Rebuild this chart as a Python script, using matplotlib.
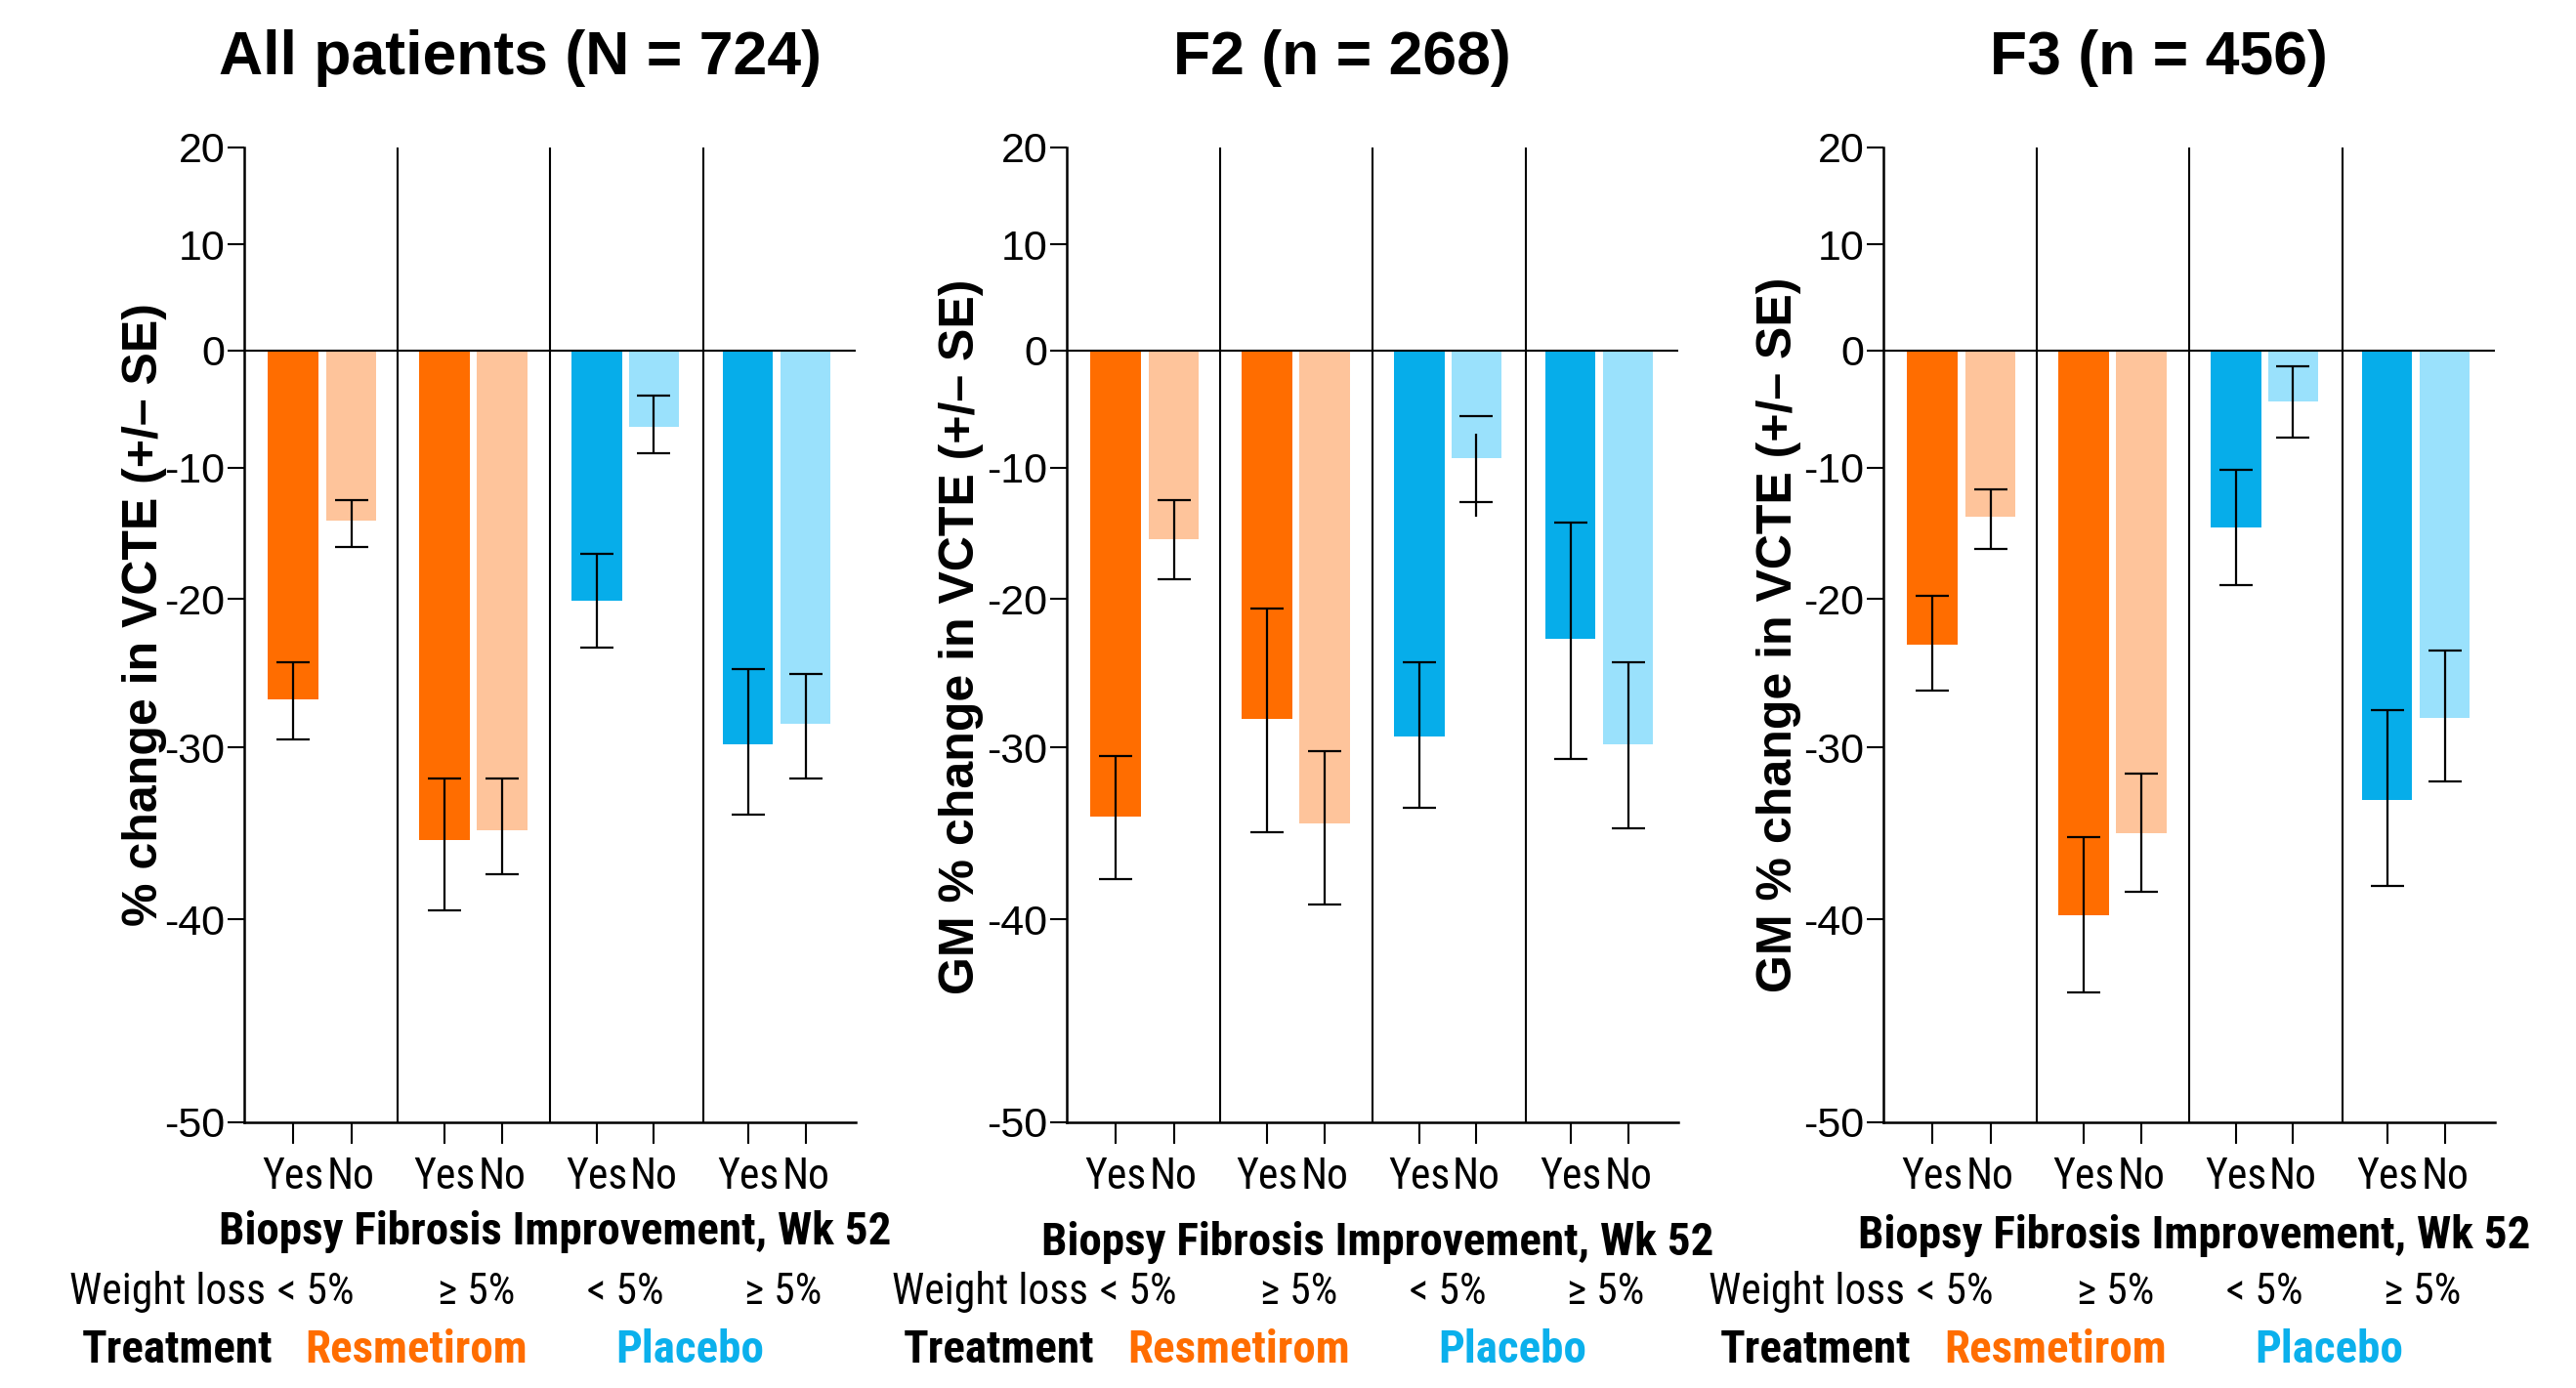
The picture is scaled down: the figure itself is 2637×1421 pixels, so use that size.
import numpy as np
import matplotlib
matplotlib.use("Agg")
import matplotlib.pyplot as plt
from matplotlib import font_manager as fm

# ---------------- data ----------------
titles = ["All patients (N = 724)", "F2 (n = 268)", "F3 (n = 456)"]
ylabels = ["% change in VCTE (+/\u2013 SE)",
           "GM % change in VCTE (+/\u2013 SE)",
           "GM % change in VCTE (+/\u2013 SE)"]
bar_labels = ["Yes", "No", "Yes", "No", "Yes", "No", "Yes", "No"]
weight_labels = ["< 5%", "\u2265 5%", "< 5%", "\u2265 5%"]
treatments = ["Resmetirom", "Placebo"]
yticks = [20, 10, 0, -10, -20, -30, -40, -50]

# order: Resm <5% (Yes, No), Resm >=5% (Yes, No), Placebo <5% (Yes, No), Placebo >=5% (Yes, No)
all_mean = [-26.9, -14.2, -35.6, -35.0, -20.1, -6.6, -29.8, -28.5]
all_upper = [-24.4, -12.6, -31.9, -31.9, -16.7, -4.0, -24.9, -25.2]
all_lower = [-29.5, -16.2, -39.5, -37.5, -23.4, -8.8, -34.1, -31.9]

f2_mean = [-34.2, -15.6, -28.2, -34.6, -29.3, -9.2, -22.8, -29.8]
f2_upper = [-30.5, -12.6, -20.7, -30.2, -24.4, -5.7, -14.3, -24.4]
f2_lower = [-37.8, -18.6, -35.1, -39.2, -33.7, -12.7, -30.7, -34.9]

f3_mean = [-23.2, -13.9, -39.8, -35.2, -14.7, -4.5, -33.2, -28.1]
f3_upper = [-19.8, -11.7, -35.4, -31.6, -10.2, -1.4, -27.6, -23.6]
f3_lower = [-26.3, -16.3, -43.8, -38.5, -19.0, -7.5, -38.2, -32.1]

# the F2 placebo "No" error stem is drawn offset from its caps in the original
f2_stem_override = {5: (-7.2, -13.9)}

panels = [
    (all_mean, all_upper, all_lower, {}),
    (f2_mean, f2_upper, f2_lower, f2_stem_override),
    (f3_mean, f3_upper, f3_lower, {}),
]

# ---------------- style ----------------
DARK_OR = "#FF6D00"
LIGHT_OR = "#FEC49B"
DARK_BL = "#06ADEA"
LIGHT_BL = "#9AE1FC"
bar_colors = [DARK_OR, LIGHT_OR, DARK_OR, LIGHT_OR, DARK_BL, LIGHT_BL, DARK_BL, LIGHT_BL]
treat_colors = ["#FF6D00", "#0BB0EC"]

plt.rcParams["font.family"] = ["Liberation Sans", "DejaVu Sans"]


def _w(e):
    w = e.weight
    if isinstance(w, str):
        return {"normal": 400, "regular": 400, "bold": 700}.get(w, 400)
    return int(w)


def pick_condensed():
    order = {"condensed": 0, "semi-condensed": 1, "extra-condensed": 2}
    cands = []
    for e in fm.fontManager.ttflist:
        st = str(e.stretch)
        cond = ("Narrow" in e.name or "Condensed" in e.name or st in order)
        if cond and e.style == "normal":
            cands.append(e)
    prefs = ["Liberation Sans Narrow", "Arial Narrow", "Roboto Condensed",
             "Open Sans Condensed", "Noto Sans", "Open Sans", "Roboto", "DejaVu Sans"]
    for name in prefs:
        sel = sorted([e for e in cands if e.name == name],
                     key=lambda e: order.get(str(e.stretch), 0))
        reg = [e for e in sel if _w(e) == 400]
        bold = [e for e in sel if _w(e) == 700]
        if reg and bold:
            return reg[0].fname, bold[0].fname
    reg = fm.findfont(fm.FontProperties(family="Liberation Sans", weight="normal"))
    bold = fm.findfont(fm.FontProperties(family="Liberation Sans", weight="bold"))
    return reg, bold


NAR_REG, NAR_BOLD = pick_condensed()

W, H = 2637, 1421
fig = plt.figure(figsize=(W / 100, H / 100), dpi=100)
renderer = fig.canvas.get_renderer()


def fit_size(text, fname, target_px, base=34.0):
    t = fig.text(0, 0, text, fontproperties=fm.FontProperties(fname=fname, size=base))
    w = t.get_window_extent(renderer).width
    t.remove()
    return min(base * target_px / w, 36.0)


REG_SIZE = fit_size("Weight loss", NAR_REG, 201)
BOLD_SIZE = fit_size("Biopsy Fibrosis Improvement, Wk 52", NAR_BOLD, 689)
fp_reg = fm.FontProperties(fname=NAR_REG, size=REG_SIZE)
fp_bold = fm.FontProperties(fname=NAR_BOLD, size=BOLD_SIZE)


def fx(x):
    return x / W


def fy(y):
    return 1 - y / H


fwd = lambda y: np.log1p(np.asarray(y, dtype=float) / 100.0)
inv = lambda z: 100.0 * np.expm1(np.asarray(z, dtype=float))

panel_left = [250, 1092, 1928]
AX_W = 626
AX_TOP, AX_BOT = 151, 1149
xpos = [0.32, 0.70, 1.31, 1.685, 2.305, 2.68, 3.295, 3.672]
bar_w = 0.33

biopsy_base = [1274, 1285, 1278]
ylabel_y = [629, 652, 650]
ylabel_dx = [-102, -108, -107]

for p, (mean, upper, lower, stem_over) in enumerate(panels):
    L = panel_left[p]
    ax = fig.add_axes([fx(L), fy(AX_BOT), AX_W / W, (AX_BOT - AX_TOP) / H])
    ax.set_yscale("function", functions=(fwd, inv))
    ax.set_ylim(-50, 20)
    ax.set_xlim(0, 4)

    ax.bar(xpos, mean, width=bar_w, color=bar_colors, edgecolor="none", zorder=2)
    for i in range(len(mean)):
        yerr = [[mean[i] - lower[i]], [upper[i] - mean[i]]]
        if i in stem_over:
            ax.errorbar([xpos[i]], [mean[i]], yerr=yerr, fmt="none", ecolor="black",
                        elinewidth=0, capsize=12, capthick=1.6, zorder=4)
            s_hi, s_lo = stem_over[i]
            ax.vlines(xpos[i], s_lo, s_hi, color="black", lw=1.6, zorder=4)
        else:
            ax.errorbar([xpos[i]], [mean[i]], yerr=yerr, fmt="none", ecolor="black",
                        elinewidth=1.6, capsize=12, capthick=1.6, zorder=4)

    ax.axhline(0, color="black", lw=1.5, zorder=3)
    for k in (1, 2, 3):
        ax.axvline(k, color="black", lw=1.5, zorder=3)

    for s in ("top", "right"):
        ax.spines[s].set_visible(False)
    for s in ("left", "bottom"):
        ax.spines[s].set_linewidth(1.8)

    ax.set_yticks(yticks)
    ax.set_yticklabels([str(t) for t in yticks])
    ax.yaxis.set_minor_locator(matplotlib.ticker.NullLocator())
    ax.tick_params(axis="y", direction="out", length=12, width=1.5, pad=2,
                   labelsize=31)
    ax.set_xticks(xpos)
    ax.set_xticklabels(bar_labels, fontproperties=fp_reg)
    ax.tick_params(axis="x", direction="out", length=16, width=1.5, pad=9)

    # title
    fig.text(fx(L + 282), fy(76), titles[p], ha="center", va="baseline",
             fontsize=45, fontweight="bold")
    # y label
    fig.text(fx(L + ylabel_dx[p]), fy(ylabel_y[p]), ylabels[p], rotation=90,
             ha="center", va="center", fontsize=36, fontweight="bold")
    # x-axis title
    fig.text(fx(L + 318), fy(biopsy_base[p]), "Biopsy Fibrosis Improvement, Wk 52",
             ha="center", va="baseline", fontproperties=fp_bold)
    # weight loss row
    fig.text(fx(L + 22), fy(1335), "Weight loss", ha="right", va="baseline",
             fontproperties=fp_reg)
    for lab, dx in zip(weight_labels, [73, 238, 390, 552]):
        fig.text(fx(L + dx), fy(1335), lab, ha="center", va="baseline",
                 fontproperties=fp_reg)
    # treatment row
    fig.text(fx(L - 69), fy(1395), "Treatment", ha="center", va="baseline",
             fontproperties=fp_bold)
    for lab, dx, c in zip(treatments, [176, 456], treat_colors):
        fig.text(fx(L + dx), fy(1395), lab, ha="center", va="baseline",
                 fontproperties=fp_bold, color=c)

fig.savefig("out.png", dpi=100, facecolor="white")
